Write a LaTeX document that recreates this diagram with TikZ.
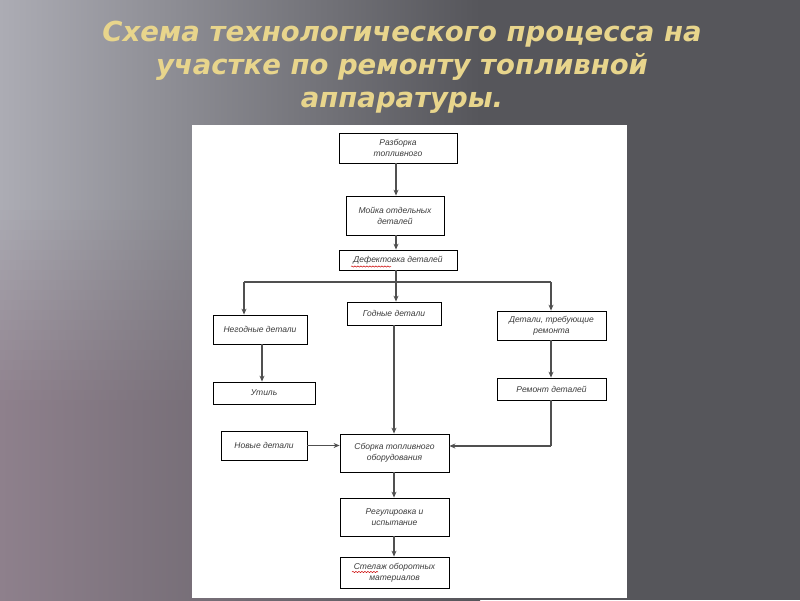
\documentclass[tikz,border=0pt]{standalone}
\usepackage{fontspec}
\setmainfont{Liberation Sans}
\newfontfamily\titlefont{DejaVu Sans}
\usetikzlibrary{arrows.meta,decorations.pathmorphing}
\definecolor{bgdark}{HTML}{56565B}
\definecolor{bglight}{HTML}{ACACB4}
\definecolor{bgpurple}{HTML}{8E808C}
\definecolor{titlegold}{HTML}{E8D58C}
\definecolor{boxtext}{HTML}{3C3C3C}
\definecolor{lineclr}{HTML}{505050}
\tikzset{
  stepbox/.style={draw=black, line width=0.8pt, fill=white, inner sep=0pt,
    font=\fontsize{8.5}{11}\selectfont\itshape, text=boxtext, align=center},
  conn/.style={draw=lineclr, line width=1.2pt, -{Stealth[length=6pt,width=5pt]}},
  plain/.style={draw=lineclr, line width=1.2pt},
  squig/.style={draw=red!80!black, line width=0.5pt, decorate,
    decoration={snake, amplitude=0.6pt, segment length=3pt}}
}
\begin{document}
\begin{tikzpicture}[x=1pt,y=-1pt]
\useasboundingbox (0,0) rectangle (800,600);
% background
\fill[bgdark] (0,0) rectangle (800,600);
\shade[left color=bglight, right color=bgdark] (0,-1) rectangle (480,200.5);
\foreach \k in {0,...,19}{
  \pgfmathsetmacro{\yy}{200+10*\k}
  \pgfmathsetmacro{\mix}{100-5*\k}
  \shade[left color=bglight!\mix!bgpurple, right color=bgdark] (0,\yy) rectangle (480,\yy+10.5);
}
\shade[left color=bgpurple, right color=bgdark] (0,400) rectangle (480,601);
% title
\node[font=\titlefont\bfseries\itshape\fontsize{27.5}{33}\selectfont, text=titlegold, align=center] (title) at (402,67)
  {Схема технологического процесса на\\участке по ремонту топливной\\аппаратуры.};
% white panel
\fill[white] (192,125) rectangle (627,598);
% boxes
\node[stepbox, minimum width=118pt, minimum height=30pt] (b1) at (398,148) {Разборка\\топливного};
\node[stepbox, minimum width=98pt, minimum height=39pt] (b2) at (395,215.5) {Мойка отдельных\\деталей};
\node[stepbox, minimum width=118pt, minimum height=20pt] (b3) at (398,260) {Дефектовка деталей};
\node[stepbox, minimum width=94pt, minimum height=29pt] (b4) at (260,329.5) {Негодные детали};
\node[stepbox, minimum width=94pt, minimum height=23pt] (b5) at (394,313.5) {Годные детали};
\node[stepbox, minimum width=109pt, minimum height=29pt] (b6) at (551.5,325.5) {Детали, требующие\\ремонта};
\node[stepbox, minimum width=102pt, minimum height=22pt] (b7) at (264,393) {Утиль};
\node[stepbox, minimum width=109pt, minimum height=22pt] (b8) at (551.5,389) {Ремонт деталей};
\node[stepbox, minimum width=86pt, minimum height=29pt] (b9) at (264,445.5) {Новые детали};
\node[stepbox, minimum width=109pt, minimum height=38pt] (b10) at (394.5,453) {Сборка топливного\\оборудования};
\node[stepbox, minimum width=109pt, minimum height=38pt] (b11) at (394.5,517) {Регулировка и\\испытание};
\node[stepbox, minimum width=109pt, minimum height=31pt] (b12) at (394.5,572.5) {Стелаж оборотных\\материалов};
% spell-check squiggles
\draw[squig] (351,266.5) -- (391,266.5);
\draw[squig] (352,572) -- (378,572);
% connectors
\coordinate (j) at (396,282);
\coordinate (jl) at (244,282);
\coordinate (jr) at (551,282);
\coordinate (rc) at (551,446);
\draw[conn] (b1.south -| 396,0) -- (b2.north -| 396,0);
\draw[conn] (b2.south -| 396,0) -- (b3.north -| 396,0);
\draw[plain] (b3.south -| 396,0) -- (j);
\draw[plain] (jl) -- (jr);
\draw[conn] (j) -- (b5.north -| 396,0);
\draw[conn] (jl) -- (b4.north -| jl);
\draw[conn] (jr) -- (b6.north -| jr);
\draw[conn] (b4.south -| 262,0) -- (b7.north -| 262,0);
\draw[conn] (b6.south -| jr) -- (b8.north -| jr);
\draw[conn] (b5.south -| 394,0) -- (b10.north -| 394,0);
\draw[plain] (b8.south -| jr) -- (rc);
\draw[conn] (rc) -- (b10.east |- rc);
\draw[conn] (b9.east) -- (b10.west |- b9.east);
\draw[conn] (b10.south -| 394,0) -- (b11.north -| 394,0);
\draw[conn] (b11.south -| 394,0) -- (b12.north -| 394,0);
\end{tikzpicture}
\end{document}
